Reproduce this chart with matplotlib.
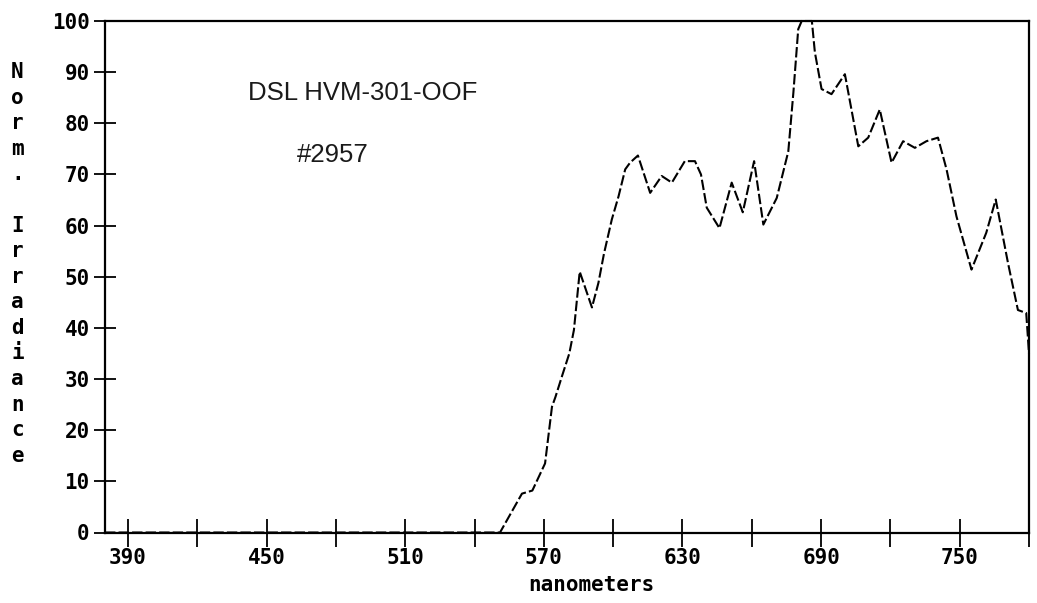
import matplotlib
matplotlib.use("Agg")
import matplotlib.pyplot as plt
from matplotlib.transforms import blended_transform_factory

# ---- data ----
wavelength_nm = [380, 551, 560.5, 565, 570.5, 573.5, 575, 578, 581, 583, 585.5,
                 590.8, 593.6, 596, 599.4, 602.3, 605.2, 607.3, 610.7, 616, 621,
                 625.4, 631, 635.4, 638, 640.5, 646, 651.3, 656.1, 661, 665,
                 670.8, 675.8, 678, 680.1, 681.6, 686, 687.3, 690.2, 694.5,
                 700.3, 706.1, 710.4, 715.4, 720.5, 725.5, 730.6, 735.6, 740.6,
                 744.3, 748.6, 755.1, 761.5, 765.6, 770.9, 775.2, 778.8, 780]
norm_irradiance = [0, 0, 7.6, 8.2, 13.5, 24.6, 26.5, 30.8, 35.0, 39.6, 51.0,
                   44.0, 48.8, 54.5, 61.2, 65.7, 71.0, 72.3, 73.7, 66.4, 69.7,
                   68.4, 72.6, 72.6, 70.0, 63.5, 59.5, 68.4, 62.6, 72.6, 60.2,
                   65.4, 74.5, 86.0, 98.4, 100, 100, 93.9, 86.7, 85.7,
                   89.6, 75.5, 77.2, 82.7, 72.3, 76.5, 75.2, 76.5, 77.2,
                   71.0, 61.8, 51.4, 58.6, 65.1, 52.7, 43.5, 42.9, 35.0]

x_major_ticks = [390, 450, 510, 570, 630, 690, 750]
x_minor_ticks = [420, 480, 540, 600, 660, 720, 780]
y_ticks = [0, 10, 20, 30, 40, 50, 60, 70, 80, 90, 100]
y_label = "Norm. Irradiance"
x_label = "nanometers"
title_lines = ["DSL HVM-301-OOF", "#2957"]

W, H = 1037, 603
fig = plt.figure(figsize=(W / 100, H / 100), dpi=100)
fig.patch.set_facecolor("white")
ax = fig.add_axes([105 / W, 1 - 532.5 / H, 924 / W, 511.5 / H])

ax.plot(wavelength_nm, norm_irradiance, color="black", lw=1.5,
        ls=(0, (5, 1.5)), clip_on=False)

ax.set_xlim(380, 780)
ax.set_ylim(0, 100)
ax.set_xticks(x_major_ticks)
ax.set_xticks(x_minor_ticks, minor=True)
ax.set_yticks(y_ticks)

tick_font = dict(family="DejaVu Sans Mono", weight="bold", size=15)
ax.set_xticklabels([str(v) for v in x_major_ticks], fontdict=tick_font)
ax.set_yticklabels([str(v) for v in y_ticks], fontdict=tick_font)
ax.tick_params(axis="x", which="both", direction="inout", length=20,
               width=1.3, pad=1, color="black")
ax.tick_params(axis="y", direction="inout", length=16, width=1.3, pad=3,
               color="black")
for sp in ax.spines.values():
    sp.set_linewidth(1.6)
    sp.set_color("black")

# stacked vertical y label
trans = blended_transform_factory(fig.transFigure, ax.transData)
for i, ch in enumerate(y_label):
    ax.text(17.5 / W, 90 - 5 * i, ch, transform=trans, ha="center",
            va="center", clip_on=False, **tick_font)

fig.text(591 / W, 1 - 591 / H, x_label, ha="center", va="baseline",
         **tick_font)

ax.text(442, 85.9, title_lines[0], ha="left", va="center",
        family="Liberation Sans", size=18.5, color="#1a1a1a")
ax.text(463, 73.8, title_lines[1], ha="left", va="center",
        family="Liberation Sans", size=18.5, color="#1a1a1a")

fig.savefig("out.png", dpi=100, facecolor="white")
